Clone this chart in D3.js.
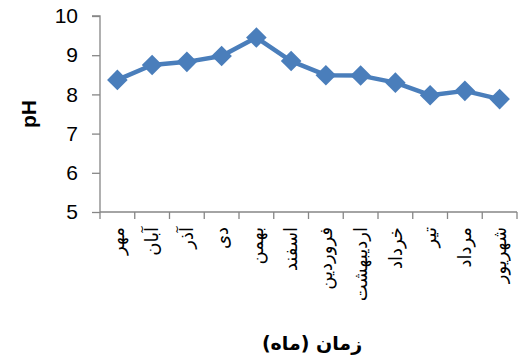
<!DOCTYPE html>
<meta charset="utf-8">
<style>
body { margin: 0; background: #fff; }
.axis path, .axis line { stroke: #868686; stroke-width: 1.3px; }
.ytick text { font: 21px "Liberation Sans", Arial, sans-serif; fill: #000; }
.xlab { font: 18px "DejaVu Sans", sans-serif; fill: #000; }
</style>
<body>
<script src="https://cdnjs.cloudflare.com/ajax/libs/d3/7.8.5/d3.min.js"></script>
<script>

// months (Persian calendar) and measured pH
var months = ["مهر", "آبان", "آذر", "دی", "بهمن", "اسفند", "فروردین", "اردیبهشت", "خرداد", "تیر", "مرداد", "شهریور"];
var ph = [8.37, 8.75, 8.83, 8.98, 9.45, 8.85, 8.49, 8.48, 8.30, 7.98, 8.09, 7.88];
var yTicks = [5, 6, 7, 8, 9, 10];

var width = 527, height = 362;
var margin = {top: 16, right: 10, bottom: 150, left: 100};

var svg = d3.select("body").append("svg")
    .attr("width", width)
    .attr("height", height);

var x = d3.scaleBand()
    .domain(months)
    .range([margin.left, 517]);

var y = d3.scaleLinear()
    .domain([5, 10])
    .range([212, margin.top]);

// y axis
var yAxis = svg.append("g")
    .attr("class", "axis ytick")
    .attr("transform", "translate(" + margin.left + ",0)")
    .call(d3.axisLeft(y).tickValues(yTicks).tickFormat(d3.format("d")).tickSize(8).tickPadding(14));
yAxis.select(".domain").attr("d", "M0," + y(5) + "V" + y(10) + "H-8");

// x axis with ticks at category boundaries
var xAxis = svg.append("g")
    .attr("class", "axis")
    .attr("transform", "translate(0," + y(5) + ")");
xAxis.append("line")
    .attr("x1", margin.left).attr("x2", 517);
xAxis.selectAll(".bt")
    .data(months.map(function(d) { return x(d); }).concat([517]))
  .enter().append("line")
    .attr("x1", function(d) { return d; })
    .attr("x2", function(d) { return d; })
    .attr("y1", 0).attr("y2", 7);

// category labels, rotated
svg.selectAll(".xlab")
    .data(months)
  .enter().append("text")
    .attr("class", "xlab")
    .attr("transform", function(d) {
      return "translate(" + (x(d) + x.bandwidth() / 2) + ",227) rotate(-90)";
    })
    .attr("dy", "0.35em")
    .style("text-anchor", "end")
    .text(function(d) { return d; });

// line + diamond markers
var line = d3.line()
    .x(function(d, i) { return x(months[i]) + x.bandwidth() / 2; })
    .y(function(d) { return y(d); });

svg.append("path")
    .datum(ph)
    .attr("fill", "none")
    .attr("stroke", "#4a7ebb")
    .attr("stroke-width", 4.5)
    .attr("stroke-linejoin", "round")
    .attr("d", line);

svg.selectAll(".pt")
    .data(ph)
  .enter().append("path")
    .attr("fill", "#4a7ebb")
    .attr("d", d3.symbol().type(d3.symbolDiamond2).size(270))
    .attr("transform", function(d, i) {
      return "translate(" + (x(months[i]) + x.bandwidth() / 2) + "," + y(d) + ")";
    });

// axis titles
svg.append("text")
    .attr("transform", "translate(29," + ((y(5) + y(10)) / 2) + ") rotate(-90)")
    .attr("dy", "0.35em")
    .style("text-anchor", "middle")
    .style("font", "bold 21px 'Liberation Sans', Arial, sans-serif")
    .text("pH");

svg.append("text")
    .attr("x", 312)
    .attr("y", 343)
    .attr("dy", "0.35em")
    .style("text-anchor", "middle")
    .style("font", "bold 19px 'DejaVu Sans', sans-serif")
    .text("زمان (ماه)");

</script>
</body>
